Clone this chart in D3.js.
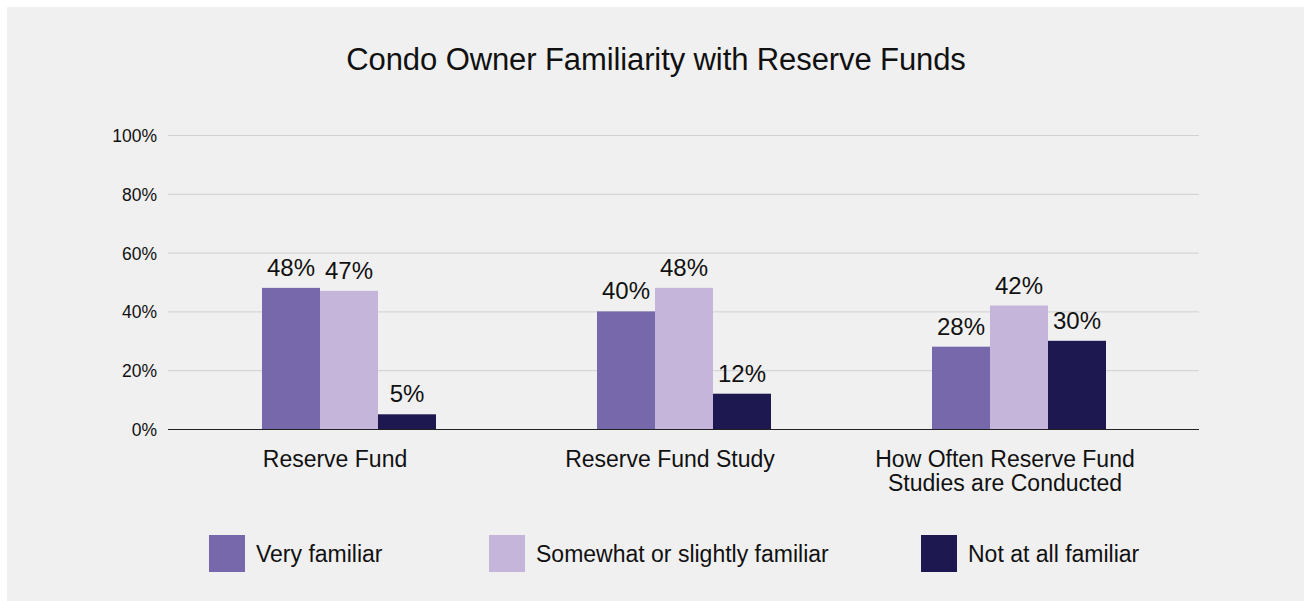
<!DOCTYPE html>
<html>
<head>
<meta charset="utf-8">
<script src="https://cdn.jsdelivr.net/npm/d3@7"></script>
<style>
  body { margin: 0; background: #fff; }
  svg { display: block; font-family: "Liberation Sans", Arial, sans-serif; }
</style>
</head>
<body>
<svg id="chart" width="1304" height="601"></svg>
<script>
// data
var categories = [["Reserve Fund"], ["Reserve Fund Study"], ["How Often Reserve Fund", "Studies are Conducted"]];
var seriesNames = ["Very familiar", "Somewhat or slightly familiar", "Not at all familiar"];
var veryFamiliar = [48, 40, 28];
var somewhatFamiliar = [47, 48, 42];
var notFamiliar = [5, 12, 30];
var yTicks = [0, 20, 40, 60, 80, 100];

var colors = ["#7767ab", "#c5b5da", "#1e1850"];
var series = [veryFamiliar, somewhatFamiliar, notFamiliar];

var svg = d3.select("#chart");

svg.append("rect")
    .attr("x", 7).attr("y", 7)
    .attr("width", 1297).attr("height", 594)
    .attr("fill", "#f0f0f0");

svg.append("text")
    .attr("x", 656).attr("y", 70)
    .attr("text-anchor", "middle")
    .attr("font-size", 31)
    .attr("letter-spacing", -0.1)
    .attr("fill", "#111")
    .text("Condo Owner Familiarity with Reserve Funds");

var plotLeft = 168, plotRight = 1199, plotTop = 135, plotBottom = 429;

var y = d3.scaleLinear().domain([0, 100]).range([plotBottom, plotTop]);
var x0 = d3.scaleBand().domain(d3.range(categories.length)).range([181.5, 1186.5]);
var x1 = d3.scaleBand().domain(d3.range(seriesNames.length)).range([80.5, 254.5]);
var labelShift = -14; // category labels sit a bit left of the bar groups

// gridlines
svg.append("g").selectAll("line")
    .data(yTicks.filter(function(d) { return d > 0; }))
    .join("line")
    .attr("x1", plotLeft).attr("x2", plotRight)
    .attr("y1", function(d) { return y(d) + 0.5; })
    .attr("y2", function(d) { return y(d) + 0.5; })
    .attr("stroke", "#d0d0d0")
    .attr("stroke-width", 1);

svg.append("g").selectAll("text")
    .data(yTicks)
    .join("text")
    .attr("x", 157)
    .attr("y", function(d) { return y(d) + 7; })
    .attr("text-anchor", "end")
    .attr("font-size", 17.5)
    .attr("fill", "#111")
    .text(function(d) { return d + "%"; });

// bars
var groups = svg.append("g").selectAll("g")
    .data(categories)
    .join("g")
    .attr("transform", function(d, i) { return "translate(" + x0(i) + ",0)"; });

groups.each(function(cat, ci) {
    var g = d3.select(this);
    var vals = series.map(function(s, si) { return { si: si, v: s[ci] }; });
    g.selectAll("rect")
        .data(vals)
        .join("rect")
        .attr("x", function(d) { return x1(d.si); })
        .attr("width", x1.bandwidth())
        .attr("y", function(d) { return y(d.v); })
        .attr("height", function(d) { return plotBottom - y(d.v); })
        .attr("fill", function(d) { return colors[d.si]; });
    g.selectAll("text.val")
        .data(vals)
        .join("text")
        .attr("class", "val")
        .attr("x", function(d) { return x1(d.si) + x1.bandwidth() / 2; })
        .attr("y", function(d) { return y(d.v) - 12; })
        .attr("text-anchor", "middle")
        .attr("font-size", 24)
        .attr("fill", "#111")
        .text(function(d) { return d.v + "%"; });
    g.append("text")
        .attr("x", x0.bandwidth() / 2 + labelShift)
        .attr("y", 467)
        .attr("text-anchor", "middle")
        .attr("font-size", 23)
        .attr("fill", "#111")
        .selectAll("tspan")
        .data(cat)
        .join("tspan")
        .attr("x", x0.bandwidth() / 2 + labelShift)
        .attr("dy", function(d, i) { return i ? 24 : 0; })
        .text(function(d) { return d; });
});

// baseline
svg.append("line")
    .attr("x1", plotLeft).attr("x2", plotRight)
    .attr("y1", plotBottom + 0.5).attr("y2", plotBottom + 0.5)
    .attr("stroke", "#222").attr("stroke-width", 1);

// legend
var legendX = [209, 489, 921];
var legend = svg.append("g").selectAll("g")
    .data(seriesNames)
    .join("g")
    .attr("transform", function(d, i) { return "translate(" + legendX[i] + ",535)"; });
legend.append("rect")
    .attr("width", 36).attr("height", 37)
    .attr("fill", function(d, i) { return colors[i]; });
legend.append("text")
    .attr("x", 47).attr("y", 27)
    .attr("font-size", 23)
    .attr("fill", "#111")
    .text(function(d) { return d; });
</script>
</body>
</html>
